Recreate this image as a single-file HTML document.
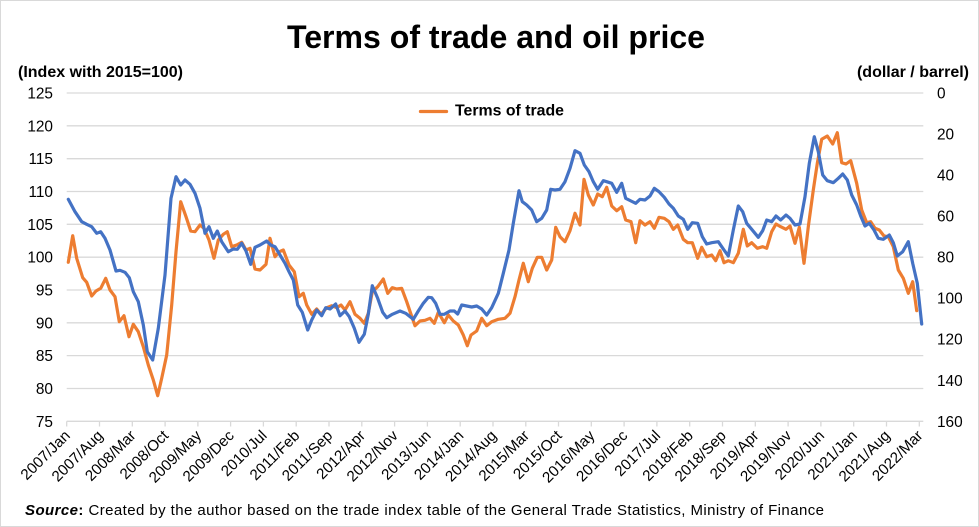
<!DOCTYPE html>
<html>
<head>
<meta charset="utf-8">
<style>
  html, body { margin:0; padding:0; background:#fff; }
  svg { display:block; }
  text { font-family: "Liberation Sans", Arial, sans-serif; fill:#000; }
</style>
</head>
<body>
<svg width="979" height="527" viewBox="0 0 979 527" xmlns="http://www.w3.org/2000/svg">
  <rect x="0.5" y="0.5" width="978" height="526" fill="#fff" stroke="#d9d9d9" stroke-width="1"/>

  <!-- Title -->
  <text x="496" y="48" font-size="32" font-weight="bold" text-anchor="middle" textLength="418" lengthAdjust="spacingAndGlyphs">Terms of trade and oil price</text>

  <!-- Axis titles -->
  <text x="18" y="77" font-size="16" font-weight="bold">(Index with 2015=100)</text>
  <text x="969" y="77" font-size="16" font-weight="bold" text-anchor="end">(dollar / barrel)</text>

  <!-- Gridlines -->
  <g stroke="#d9d9d9" stroke-width="1.3">
    <line x1="66.7" x2="923.3" y1="93" y2="93"/>
    <line x1="66.7" x2="923.3" y1="125.8" y2="125.8"/>
    <line x1="66.7" x2="923.3" y1="158.7" y2="158.7"/>
    <line x1="66.7" x2="923.3" y1="191.5" y2="191.5"/>
    <line x1="66.7" x2="923.3" y1="224.3" y2="224.3"/>
    <line x1="66.7" x2="923.3" y1="257.2" y2="257.2"/>
    <line x1="66.7" x2="923.3" y1="290" y2="290"/>
    <line x1="66.7" x2="923.3" y1="322.8" y2="322.8"/>
    <line x1="66.7" x2="923.3" y1="355.6" y2="355.6"/>
    <line x1="66.7" x2="923.3" y1="388.5" y2="388.5"/>
    <line x1="66.7" x2="923.3" y1="421.3" y2="421.3"/>
  </g>

  <!-- X tick marks -->
  <g stroke="#d9d9d9" stroke-width="1.3">
    <line x1="66.7" x2="66.7" y1="421.3" y2="426.5"/>
    <line x1="99.5" x2="99.5" y1="421.3" y2="426.5"/>
    <line x1="132.3" x2="132.3" y1="421.3" y2="426.5"/>
    <line x1="165.1" x2="165.1" y1="421.3" y2="426.5"/>
    <line x1="197.9" x2="197.9" y1="421.3" y2="426.5"/>
    <line x1="230.6" x2="230.6" y1="421.3" y2="426.5"/>
    <line x1="263.4" x2="263.4" y1="421.3" y2="426.5"/>
    <line x1="296.2" x2="296.2" y1="421.3" y2="426.5"/>
    <line x1="329.0" x2="329.0" y1="421.3" y2="426.5"/>
    <line x1="361.8" x2="361.8" y1="421.3" y2="426.5"/>
    <line x1="394.6" x2="394.6" y1="421.3" y2="426.5"/>
    <line x1="427.4" x2="427.4" y1="421.3" y2="426.5"/>
    <line x1="460.2" x2="460.2" y1="421.3" y2="426.5"/>
    <line x1="493.0" x2="493.0" y1="421.3" y2="426.5"/>
    <line x1="525.8" x2="525.8" y1="421.3" y2="426.5"/>
    <line x1="558.5" x2="558.5" y1="421.3" y2="426.5"/>
    <line x1="591.3" x2="591.3" y1="421.3" y2="426.5"/>
    <line x1="624.1" x2="624.1" y1="421.3" y2="426.5"/>
    <line x1="656.9" x2="656.9" y1="421.3" y2="426.5"/>
    <line x1="689.7" x2="689.7" y1="421.3" y2="426.5"/>
    <line x1="722.5" x2="722.5" y1="421.3" y2="426.5"/>
    <line x1="755.3" x2="755.3" y1="421.3" y2="426.5"/>
    <line x1="788.1" x2="788.1" y1="421.3" y2="426.5"/>
    <line x1="820.9" x2="820.9" y1="421.3" y2="426.5"/>
    <line x1="853.7" x2="853.7" y1="421.3" y2="426.5"/>
    <line x1="886.5" x2="886.5" y1="421.3" y2="426.5"/>
    <line x1="919.3" x2="919.3" y1="421.3" y2="426.5"/>
  </g>

  <!-- Left axis labels -->
  <g font-size="15.4" text-anchor="end">
    <text x="53" y="98.5">125</text>
    <text x="53" y="131.3">120</text>
    <text x="53" y="164.2">115</text>
    <text x="53" y="197">110</text>
    <text x="53" y="229.8">105</text>
    <text x="53" y="262.7">100</text>
    <text x="53" y="295.5">95</text>
    <text x="53" y="328.3">90</text>
    <text x="53" y="361.1">85</text>
    <text x="53" y="394">80</text>
    <text x="53" y="426.8">75</text>
  </g>

  <!-- Right axis labels -->
  <g font-size="15.4" text-anchor="start">
    <text x="937" y="98.5">0</text>
    <text x="937" y="139.5">20</text>
    <text x="937" y="180.6">40</text>
    <text x="937" y="221.6">60</text>
    <text x="937" y="262.7">80</text>
    <text x="937" y="303.7">100</text>
    <text x="937" y="344.7">120</text>
    <text x="937" y="385.8">140</text>
    <text x="937" y="426.8">160</text>
  </g>

  <!-- X axis labels -->
  <g font-size="15.2" text-anchor="end">
    <text transform="translate(71.0,436.5) rotate(-45)">2007/Jan</text>
    <text transform="translate(103.8,436.5) rotate(-45)">2007/Aug</text>
    <text transform="translate(136.6,436.5) rotate(-45)">2008/Mar</text>
    <text transform="translate(169.4,436.5) rotate(-45)">2008/Oct</text>
    <text transform="translate(202.2,436.5) rotate(-45)">2009/May</text>
    <text transform="translate(234.9,436.5) rotate(-45)">2009/Dec</text>
    <text transform="translate(267.7,436.5) rotate(-45)">2010/Jul</text>
    <text transform="translate(300.5,436.5) rotate(-45)">2011/Feb</text>
    <text transform="translate(333.3,436.5) rotate(-45)">2011/Sep</text>
    <text transform="translate(366.1,436.5) rotate(-45)">2012/Apr</text>
    <text transform="translate(398.9,436.5) rotate(-45)">2012/Nov</text>
    <text transform="translate(431.7,436.5) rotate(-45)">2013/Jun</text>
    <text transform="translate(464.5,436.5) rotate(-45)">2014/Jan</text>
    <text transform="translate(497.3,436.5) rotate(-45)">2014/Aug</text>
    <text transform="translate(530.1,436.5) rotate(-45)">2015/Mar</text>
    <text transform="translate(562.8,436.5) rotate(-45)">2015/Oct</text>
    <text transform="translate(595.6,436.5) rotate(-45)">2016/May</text>
    <text transform="translate(628.4,436.5) rotate(-45)">2016/Dec</text>
    <text transform="translate(661.2,436.5) rotate(-45)">2017/Jul</text>
    <text transform="translate(694.0,436.5) rotate(-45)">2018/Feb</text>
    <text transform="translate(726.8,436.5) rotate(-45)">2018/Sep</text>
    <text transform="translate(759.6,436.5) rotate(-45)">2019/Apr</text>
    <text transform="translate(792.4,436.5) rotate(-45)">2019/Nov</text>
    <text transform="translate(825.2,436.5) rotate(-45)">2020/Jun</text>
    <text transform="translate(858.0,436.5) rotate(-45)">2021/Jan</text>
    <text transform="translate(890.8,436.5) rotate(-45)">2021/Aug</text>
    <text transform="translate(923.6,436.5) rotate(-45)">2022/Mar</text>
  </g>

  <!-- Terms of trade (orange) -->
  <polyline fill="none" stroke="#ED7D31" stroke-width="3.2" stroke-linejoin="round" stroke-linecap="round" points="68.3,262.3 72.7,235.7 76.7,258.3 82.7,277.7 86.7,282.3 91.7,296 96,291 100.7,288.3 105.7,278.3 110,290 115,296.7 119.3,321.7 124,315.7 129,336.7 133.3,324.3 138.3,331.7 143.3,346.7 148.3,365 153.3,380 157.7,395.7 161.7,378.3 166.7,355 171.7,305 176,251.7 180.7,201.7 186,216.7 190.7,231 195,231.7 200,225 204,228.3 209,240 214,258.3 218.3,240 223.3,234.3 227.3,231.7 231.7,246.7 236.7,245 241.7,242.3 246,250 250,248.3 255,269 260,270 266,264.3 270,238.3 275,256.7 279.3,251.7 283.3,250 289,265 294.3,271.7 299,296.7 303.3,293.3 306.7,305 311.7,314.3 316.7,309 321,314.3 326.7,307.7 331.7,305.7 336.7,307.7 341,305 345,310 350,301.7 355,314.3 360,318.3 364.3,323.3 368.3,313.3 372.3,291.7 377.7,286.7 383.3,279 387.7,293.3 392.3,287.7 396.7,289 401.7,288.3 406.7,301.7 411,314.3 415,325.7 420,321 425,320.3 430,318.3 434.3,323.3 438.3,312.3 444.3,322.7 448.3,315 453.3,321 458.3,325 463.3,335 467.3,345.7 471,335 476.7,331 481.7,318.3 486.7,325.7 491.7,321.7 498.3,319.3 505,318.3 510,313.3 515,296.7 519,280 523.3,263.3 528.3,281.7 532.3,268.3 537.3,257.3 541.7,257.3 546.7,270 551.7,260 555.7,227.3 560,236.7 565,241.7 570,230.7 575,213.3 580,225 584,179.3 588.3,195 593.3,205 597.7,194 602.3,196.7 606.7,187.3 611.7,206 616.7,210.7 621.7,206.7 625.7,220 631,221.7 635.7,242.7 640,220.7 645,225 650,221.7 654.3,228.3 659,217.3 664.3,218.3 669,221.7 673.3,229.3 677.7,225 683.3,239.3 687.7,242.7 692.3,242.7 697.7,258.3 701.7,247.3 706.7,256.7 711.7,255 715.7,260.7 720,250.7 724,262.7 728.3,260.7 733.3,262.7 738.3,253.3 743.3,229.3 747.3,246 751.7,242.7 757.3,248.3 762.7,246.7 766.7,248.3 771.7,231.7 776,224 780.7,226.7 786,229.3 790,226 795,243.3 799.3,227.3 804,263.3 808.3,226.7 813.3,190 817.3,163.3 821.7,139.3 827.3,136 832.7,144 837.3,132.7 841.7,162.7 846,164 850.7,160.7 856.7,183.3 861.7,210 866.7,222.7 870.7,221.7 875,228.3 879.3,230 884,236 888.3,236.7 893.3,246.7 898.3,270 903.3,278.3 908.3,293.3 912.7,281.7 916.7,310.7"/>

  <!-- Oil price (blue, inverted right axis) -->
  <polyline fill="none" stroke="#4472C4" stroke-width="3.2" stroke-linejoin="round" stroke-linecap="round" points="68.3,199.3 75,211.7 81.7,221.7 86.7,224.3 91.7,226.7 96.7,233.3 100.7,231.7 105,238.3 110,250 116,271 120,270.3 125,272.3 129.3,277.7 133.3,291.7 138.3,301.7 143.3,325 147.3,351.7 152.7,360 158.3,328.3 165,275 171,198.3 176,176.7 180.7,185 185,180 190,184.3 195,193.3 200,208.3 205,233.3 209,226.7 213.3,238.3 217.3,231 221.7,241.7 228.3,251.7 233.3,249 237.3,249.3 241.7,243.3 246,251 250.7,264.3 255,247.3 260,245 266.7,241 270.7,245 275,246.7 280,255 285,263.3 289,271.7 293.3,280 297.7,305 302.3,312.3 307.7,330 311.7,320 316.7,310 321.7,315.7 325.7,307.7 330,309 335.7,304 340,315.7 345,311 349.3,316.7 354.3,328.3 359,342.3 364.3,334.3 368.3,314.3 372.3,285.7 377.7,298.3 382.7,312.3 386.7,317.7 392.3,314.3 400,311 405.7,313.3 413.3,319.3 418.3,311 423.3,303.3 428.3,297.3 431.7,297.7 435.7,303.3 440,314.3 444.3,314.3 450,311 454.3,311 457.7,314 461.7,305 466.7,306 471.7,307 476.7,306 481.7,309 486.7,315 491.7,307.7 498.3,293.3 503.3,273.3 509,250 513.3,223.3 519,190.7 522.3,201.7 526.7,205 531.7,210 536.7,221.7 541.7,218.3 546.7,210 550.7,189.3 555,190 560,189.3 565,181.7 570,168.3 575,150.7 580,153.3 584.3,165 589,171.7 593.3,181.7 597.7,189.3 603.3,180.7 606.7,181.7 611.7,183.3 616.7,192.3 621.7,183.3 625.7,198.3 631,201 635.7,203.3 640,199.3 645,200 650,196 654.3,188.3 659,191.7 664.3,197.3 669,204 673.3,208.3 678.3,216 683.3,219.3 687.7,229.3 692.3,222.7 697.7,223.3 702.3,236.7 706.7,244 711.7,242.7 718.3,241.7 724,250 728.3,256 733.3,230 738.3,206 742.7,211.7 746.7,223.3 751.7,229.3 758.3,237.3 762.7,230.7 766.7,220 771.7,221.7 776,216 780.7,220 786,215 790,218.3 795,225 800,224 805,196.7 809.3,163.3 814.3,136.7 818.3,151.7 822.7,175 827.3,180.7 833.3,182.7 838.3,178.3 842.7,174 847.3,180 851.7,195 856.7,205 860.7,216 865,226 869.3,223.3 874,230 878.3,238.3 883.3,239.3 889.3,235 893.3,242.7 897.3,256 902.7,251.7 908.3,241.7 912.7,263.3 917.3,283.3 921.7,324"/>

  <!-- Legend -->
  <line x1="420.5" y1="111.5" x2="446.5" y2="111.5" stroke="#ED7D31" stroke-width="3.3" stroke-linecap="round"/>
  <text x="455" y="115.5" font-size="15.6" font-weight="bold" textLength="109" lengthAdjust="spacingAndGlyphs">Terms of trade</text>

  <!-- Source -->
  <text x="25" y="515" font-size="15" textLength="799" lengthAdjust="spacing"><tspan font-weight="bold" font-style="italic">Source</tspan><tspan font-weight="bold">:</tspan> Created by the author based on the trade index table of the General Trade Statistics, Ministry of Finance</text>
</svg>
</body>
</html>
